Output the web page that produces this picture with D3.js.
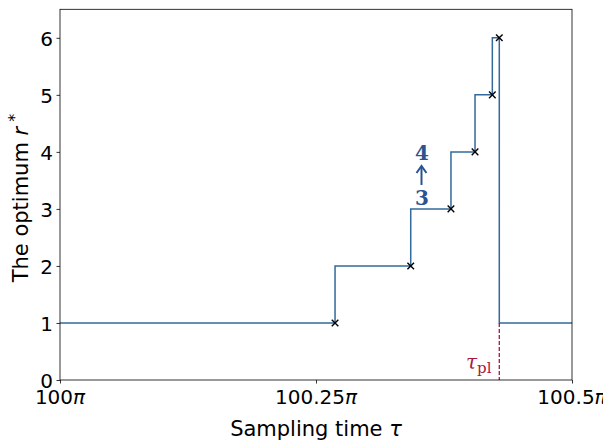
<!DOCTYPE html>
<html>
<head>
<meta charset="utf-8">
<script src="https://cdn.jsdelivr.net/npm/d3@7/dist/d3.min.js"></script>
<style>
  html, body { margin: 0; padding: 0; background: #fff; }
  svg { display: block; }
</style>
</head>
<body>
<svg id="chart" width="603" height="441"></svg>
<script>
// ---- data (tau in units of pi) ----
const tauSteps = [100.2686, 100.3425, 100.3818, 100.4053, 100.4222, 100.4290];
const rValues = [1, 2, 3, 4, 5, 6];
const tauStart = 100.0;
const tauEnd = 100.5;
const tauPl = 100.4290;
const rBase = 1;
const xTickValues = [100, 100.25, 100.5];
const xTickLabels = ["100", "100.25", "100.5"];
const yTickValues = [0, 1, 2, 3, 4, 5, 6];
const annoTop = "4";
const annoBottom = "3";

// ---- layout ----
const svg = d3.select("#chart");
const L = 60, R = 572, T = 9.3, B = 380;
const x = d3.scaleLinear().domain([tauStart, tauEnd]).range([L, R]);
const y = d3.scaleLinear().domain([0, 6.5]).range([B, T]);

const lineColor = "#33699b";
const annoColor = "#2b5392";
const plColor = "#a8193f";

// line points
const pts = [[tauStart, rBase]];
tauSteps.forEach((t, i) => pts.push([t, rValues[i]]));
pts.push([tauPl, rBase]);
pts.push([tauEnd, rBase]);

const line = d3.line().x(d => x(d[0])).y(d => y(d[1])).curve(d3.curveStepBefore);

svg.append("path")
  .attr("d", line(pts))
  .attr("fill", "none")
  .attr("stroke", lineColor)
  .attr("stroke-width", 1.5);

// dashed tau_pl line
svg.append("line")
  .attr("x1", x(tauPl)).attr("x2", x(tauPl))
  .attr("y1", y(rBase)).attr("y2", y(0))
  .attr("stroke", plColor)
  .attr("stroke-width", 1.3)
  .attr("stroke-dasharray", "4,2");

// markers
const ms = 3.3;
const mg = svg.append("g");
tauSteps.forEach((t, i) => {
  const cx = x(t), cy = y(rValues[i]);
  mg.append("path")
    .attr("d", `M${cx - ms},${cy - ms}L${cx + ms},${cy + ms}M${cx - ms},${cy + ms}L${cx + ms},${cy - ms}`)
    .attr("stroke", "#000")
    .attr("stroke-width", 1.4)
    .attr("fill", "none");
});

// axes
const fontTick = "DejaVu Sans, sans-serif";
const xAxis = d3.axisBottom(x).tickValues(xTickValues).tickSize(3.5).tickFormat(() => "");
const yAxis = d3.axisLeft(y).tickValues(yTickValues).tickSize(3.5).tickPadding(3.5).tickFormat(d3.format("d"));

const gx = svg.append("g").attr("transform", `translate(0,${B})`).call(xAxis);
gx.select(".domain").remove();
gx.selectAll("line").attr("stroke", "#000").attr("stroke-width", 0.8);

xTickValues.forEach((v, i) => {
  const t = svg.append("text")
    .attr("x", x(v)).attr("y", 403.5)
    .attr("text-anchor", "middle")
    .attr("font-family", fontTick)
    .attr("font-size", 20)
    .attr("fill", "#000");
  t.append("tspan").text(xTickLabels[i]);
  t.append("tspan").attr("font-style", "italic").text("π");
});

const gy = svg.append("g").attr("transform", `translate(${L},0)`).call(yAxis);
gy.select(".domain").remove();
gy.selectAll("line").attr("stroke", "#000").attr("stroke-width", 0.8);
gy.selectAll("text")
  .attr("font-family", fontTick)
  .attr("font-size", 20)
  .attr("fill", "#000")
  .attr("dy", "0.36em");

// frame
svg.append("rect")
  .attr("x", L).attr("y", T).attr("width", R - L).attr("height", B - T)
  .attr("fill", "none").attr("stroke", "#000").attr("stroke-width", 0.8);

// axis labels
const xl = svg.append("text")
  .attr("x", (L + R) / 2).attr("y", 436)
  .attr("text-anchor", "middle")
  .attr("font-family", fontTick)
  .attr("font-size", 21);
xl.append("tspan").text("Sampling time ");
xl.append("tspan").attr("font-style", "italic").text("τ");

const yl = svg.append("text")
  .attr("transform", `translate(28,198) rotate(-90)`)
  .attr("text-anchor", "middle")
  .attr("font-family", fontTick)
  .attr("font-size", 21);
yl.append("tspan").text("The optimum ");
yl.append("tspan").attr("font-style", "italic").text("r");
yl.append("tspan").attr("dy", -8).attr("font-size", 16).text(" *");

// annotation 4 <- 3
const ax = 422;
svg.append("text")
  .attr("x", ax).attr("y", 160)
  .attr("text-anchor", "middle")
  .attr("font-family", "DejaVu Serif, serif")
  .attr("font-weight", "bold")
  .attr("font-size", 20)
  .attr("fill", annoColor)
  .text(annoTop);
svg.append("text")
  .attr("x", ax).attr("y", 205)
  .attr("text-anchor", "middle")
  .attr("font-family", "DejaVu Serif, serif")
  .attr("font-weight", "bold")
  .attr("font-size", 20)
  .attr("fill", annoColor)
  .text(annoBottom);
svg.append("line")
  .attr("x1", ax - 0.5).attr("x2", ax - 0.5)
  .attr("y1", 185).attr("y2", 167)
  .attr("stroke", annoColor).attr("stroke-width", 2);
svg.append("path")
  .attr("d", `M${ax - 5.5},${173}L${ax - 0.5},${166}L${ax + 4.5},${173}`)
  .attr("fill", "none")
  .attr("stroke", annoColor).attr("stroke-width", 2);

// tau_pl label
const tl = svg.append("text")
  .attr("x", 466).attr("y", 369)
  .attr("font-family", "DejaVu Serif, serif")
  .attr("fill", plColor)
  .attr("font-size", 20);
tl.append("tspan").attr("font-style", "italic").text("τ");
tl.append("tspan").attr("dy", 4).attr("font-size", 15).text("pl");
</script>
</body>
</html>
